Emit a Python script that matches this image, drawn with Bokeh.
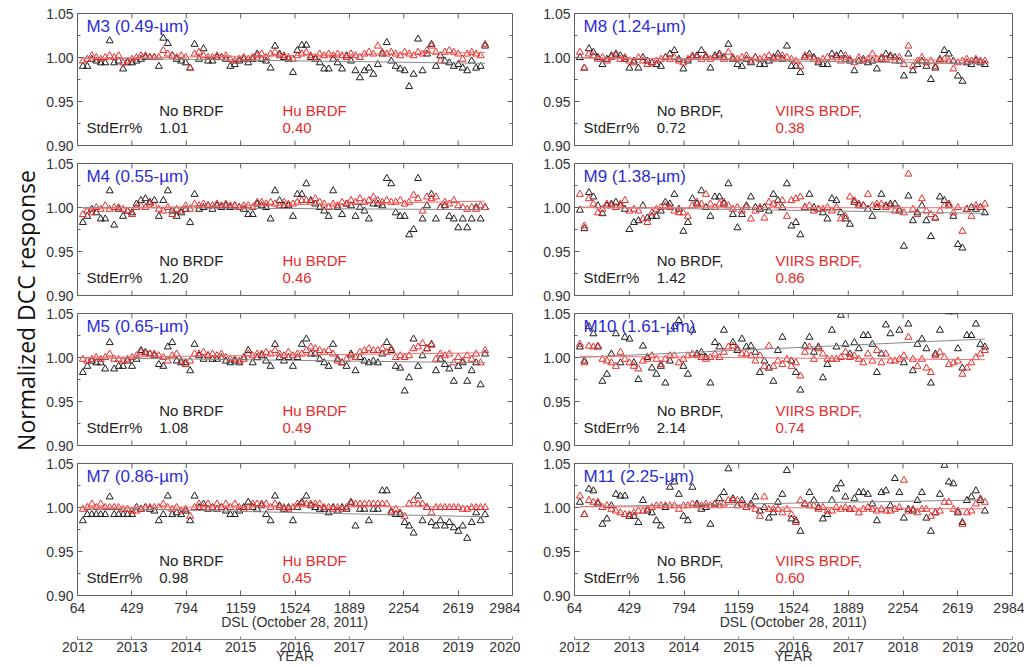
import numpy as np
from bokeh.plotting import figure
from bokeh.models import Range1d, LinearAxis, FixedTicker, NumeralTickFormatter, Label
from bokeh.layouts import row, column
from bokeh.embed import file_html
from bokeh.resources import INLINE

# ---------------- data ----------------
dsl_days = [100, 130, 160, 190, 220, 250, 280, 310, 340, 370,
            400, 430, 460, 490, 520, 550, 580, 610, 640, 670,
            700, 730, 760, 790, 820, 850, 880, 910, 940, 970,
            1000, 1030, 1060, 1090, 1120, 1150, 1180, 1210, 1240, 1270,
            1300, 1330, 1360, 1390, 1420, 1450, 1480, 1510, 1540, 1570,
            1600, 1630, 1660, 1690, 1720, 1750, 1780, 1810, 1840, 1870,
            1900, 1930, 1960, 1990, 2020, 2050, 2080, 2110, 2140, 2170,
            2200, 2230, 2260, 2290, 2320, 2350, 2380, 2410, 2440, 2470,
            2500, 2530, 2560, 2590, 2620, 2650, 2680, 2710, 2740, 2770,
            2800]

dsl_ticks = [64, 429, 794, 1159, 1524, 1889, 2254, 2619, 2984]
year_ticks = [2012, 2013, 2014, 2015, 2016, 2017, 2018, 2019, 2020]
y_ticks = [0.90, 0.95, 1.00, 1.05]
y_minor = [0.925, 0.975, 1.025]

m3_nobrdf = [0.990, 0.990, 0.998, 0.996, 0.994, 0.994, 1.019, 0.994, 0.996, 0.987,
             0.994, 0.994, 0.996, 0.998, 1.000, 1.000, 1.000, 0.990, 1.022, 1.016,
             1.002, 0.998, 0.996, 0.994, 0.988, 1.015, 0.998, 1.010, 0.996, 0.996,
             1.000, 1.000, 0.998, 0.990, 0.992, 0.996, 0.998, 0.994, 0.998, 1.004,
             0.998, 0.996, 0.988, 1.013, 1.004, 1.000, 0.998, 0.983, 1.008, 1.014,
             1.014, 1.000, 0.998, 0.994, 0.987, 0.987, 0.998, 0.994, 0.987, 1.002,
             0.996, 0.985, 0.977, 0.985, 0.988, 0.981, 0.992, 1.004, 1.017, 0.996,
             0.990, 0.987, 0.985, 0.967, 0.981, 1.021, 0.985, 1.004, 1.015, 0.990,
             1.002, 0.996, 0.994, 0.990, 0.992, 0.988, 0.985, 0.996, 0.988, 0.990,
             1.013]
m3_brdf = [0.996, 0.998, 1.002, 1.000, 0.998, 1.000, 1.002, 1.000, 1.002, 0.994,
           0.996, 0.998, 1.000, 1.002, 1.002, 1.000, 1.000, 1.000, 1.008, 1.004,
           1.002, 1.000, 1.002, 1.000, 0.988, 1.004, 1.006, 1.002, 1.000, 1.000,
           1.002, 1.000, 1.002, 0.998, 0.996, 0.998, 1.000, 0.998, 1.000, 1.002,
           1.004, 1.000, 1.004, 1.006, 1.002, 1.002, 1.000, 0.998, 1.002, 1.004,
           1.006, 1.002, 1.000, 1.004, 1.002, 1.004, 1.002, 1.004, 1.002, 1.000,
           1.004, 1.002, 1.000, 1.004, 1.006, 1.004, 1.013, 1.006, 1.004, 1.006,
           1.004, 1.002, 1.006, 1.004, 1.002, 1.006, 1.004, 1.008, 1.013, 1.006,
           0.996, 1.006, 1.008, 1.006, 1.004, 0.998, 1.004, 1.006, 1.004, 1.002,
           1.015]

m4_nobrdf = [0.983, 0.990, 0.998, 0.994, 0.987, 0.987, 1.019, 0.980, 0.998, 0.990,
             0.996, 0.994, 1.004, 1.008, 1.010, 1.006, 1.008, 0.990, 1.008, 1.019,
             0.996, 0.990, 0.994, 0.998, 0.983, 1.015, 0.998, 1.000, 1.002, 0.998,
             1.002, 1.000, 1.002, 1.000, 1.002, 1.000, 0.998, 0.992, 0.992, 1.004,
             1.002, 1.000, 0.987, 1.019, 1.008, 1.002, 1.002, 0.990, 1.015, 1.015,
             1.027, 1.008, 1.004, 1.000, 0.996, 0.990, 1.019, 1.000, 0.992, 1.004,
             1.002, 0.990, 1.000, 0.996, 0.987, 1.004, 1.004, 1.002, 1.033, 1.027,
             0.994, 0.990, 0.990, 0.969, 0.975, 1.033, 0.987, 1.002, 1.015, 0.987,
             1.000, 1.002, 0.990, 0.987, 0.977, 0.987, 0.977, 0.987, 1.000, 0.987,
             1.000]
m4_brdf = [0.992, 0.996, 0.994, 1.000, 0.998, 1.002, 0.998, 1.000, 1.000, 0.998,
           0.996, 0.992, 1.000, 1.002, 1.000, 1.004, 1.002, 0.998, 0.996, 1.000,
           0.992, 0.998, 0.996, 1.002, 0.998, 1.004, 1.002, 1.004, 1.002, 1.002,
           1.004, 1.002, 1.004, 1.002, 1.002, 1.000, 1.002, 1.002, 1.000, 1.006,
           1.006, 1.004, 1.006, 1.004, 1.002, 1.006, 1.004, 1.004, 1.006, 1.008,
           1.008, 1.006, 1.010, 1.006, 1.004, 1.000, 1.004, 1.002, 1.006, 1.004,
           1.008, 1.006, 1.010, 1.006, 1.008, 1.012, 1.008, 1.006, 1.008, 1.006,
           1.006, 1.008, 1.004, 1.006, 1.014, 1.010, 0.996, 1.012, 1.010, 1.012,
           1.000, 1.006, 1.004, 1.008, 1.002, 1.000, 0.998, 1.000, 0.998, 1.002,
           1.000]

m5_nobrdf = [0.983, 0.990, 0.996, 0.994, 0.994, 0.987, 1.017, 0.987, 0.990, 0.990,
             0.996, 0.990, 0.998, 1.008, 1.006, 1.004, 1.002, 0.992, 0.990, 1.012,
             1.017, 0.996, 0.994, 0.994, 0.985, 1.015, 1.002, 0.998, 1.002, 0.998,
             0.998, 1.000, 0.996, 0.994, 0.996, 0.994, 1.000, 1.008, 0.994, 1.000,
             1.002, 0.996, 0.990, 1.015, 1.000, 0.996, 1.000, 0.990, 1.000, 1.015,
             1.021, 1.004, 1.004, 0.998, 0.994, 0.990, 1.015, 0.998, 0.994, 0.990,
             1.004, 0.985, 1.000, 0.996, 0.994, 0.996, 0.994, 1.004, 1.017, 1.008,
             0.990, 0.988, 0.962, 0.977, 1.021, 0.990, 1.002, 1.010, 1.015, 0.985,
             0.998, 0.992, 0.987, 0.973, 0.990, 0.994, 0.973, 0.985, 0.994, 0.969,
             1.004]
m5_brdf = [0.998, 0.996, 0.998, 1.000, 0.998, 1.000, 1.004, 0.998, 0.998, 0.996,
           0.998, 1.000, 1.002, 1.006, 1.004, 1.004, 1.004, 1.002, 1.000, 0.996,
           1.002, 1.004, 0.996, 0.992, 0.996, 1.004, 1.004, 1.006, 1.002, 1.004,
           1.002, 1.004, 1.000, 0.998, 0.998, 0.996, 0.998, 1.004, 1.002, 1.004,
           1.004, 1.006, 1.004, 1.008, 1.004, 1.002, 1.006, 1.002, 1.004, 1.004,
           1.008, 1.012, 1.010, 1.008, 1.006, 1.008, 1.004, 0.996, 0.994, 0.998,
           1.002, 1.000, 1.006, 1.008, 1.010, 1.008, 1.008, 1.010, 1.006, 1.010,
           1.000, 1.002, 1.000, 1.002, 1.010, 1.012, 1.016, 1.010, 1.014, 0.998,
           1.004, 1.002, 1.004, 0.994, 1.000, 0.996, 1.002, 0.998, 1.004, 0.994,
           1.008]

m7_nobrdf = [0.985, 0.992, 0.992, 0.992, 0.992, 0.992, 1.012, 0.992, 0.992, 0.992,
             0.992, 0.992, 1.000, 0.998, 1.000, 0.998, 0.996, 0.985, 0.992, 1.013,
             0.992, 0.994, 0.992, 0.996, 0.985, 1.013, 1.000, 1.004, 0.998, 1.000,
             0.998, 1.000, 0.996, 0.992, 0.992, 0.996, 1.000, 1.006, 1.000, 0.998,
             1.002, 0.992, 0.985, 1.013, 1.002, 0.998, 1.000, 0.985, 1.000, 1.006,
             1.013, 1.002, 1.000, 0.998, 0.998, 0.994, 1.000, 0.996, 1.000, 0.998,
             1.006, 0.979, 0.998, 0.998, 0.985, 0.998, 0.998, 1.019, 1.019, 0.994,
             0.992, 0.992, 0.983, 0.979, 0.971, 1.013, 0.985, 1.000, 0.983, 0.979,
             0.985, 0.979, 0.983, 0.977, 0.973, 0.979, 0.965, 0.983, 0.994, 0.985,
             0.992]
m7_brdf = [0.998, 1.000, 1.004, 1.000, 1.004, 1.000, 1.000, 1.000, 1.000, 0.998,
           0.998, 0.996, 0.996, 0.998, 1.000, 1.000, 1.000, 1.000, 1.004, 1.000,
           0.998, 1.000, 0.996, 0.998, 0.990, 1.000, 1.004, 1.000, 1.004, 1.000,
           1.004, 1.000, 1.004, 1.000, 1.004, 1.000, 0.998, 1.000, 1.004, 1.004,
           1.004, 1.004, 1.000, 1.004, 1.000, 1.000, 0.998, 1.000, 1.004, 1.004,
           1.004, 1.004, 1.004, 1.004, 1.000, 1.000, 0.998, 1.000, 0.998, 1.000,
           1.004, 1.004, 1.004, 1.004, 1.004, 1.004, 1.004, 1.004, 1.004, 0.996,
           0.998, 0.994, 0.990, 1.004, 1.008, 1.004, 1.004, 1.000, 0.994, 1.000,
           1.000, 1.000, 1.000, 1.000, 1.000, 0.998, 0.998, 1.000, 1.000, 1.000,
           1.000]

m8_nobrdf = [1.000, 0.988, 1.010, 1.006, 1.000, 0.992, 0.998, 1.002, 1.004, 1.002,
             0.998, 0.988, 0.996, 0.988, 1.000, 0.996, 0.994, 0.992, 0.990, 1.000,
             1.004, 1.008, 0.998, 0.987, 0.996, 1.000, 1.002, 1.008, 1.000, 0.988,
             1.002, 1.004, 1.000, 1.015, 0.998, 0.992, 0.990, 0.998, 0.994, 1.000,
             0.992, 0.992, 0.996, 1.000, 1.004, 0.998, 1.013, 0.990, 0.990, 0.983,
             1.000, 1.004, 1.000, 0.994, 0.992, 0.992, 1.004, 1.002, 1.004, 0.998,
             0.996, 0.985, 0.996, 0.998, 0.994, 0.996, 0.987, 0.998, 1.004, 1.002,
             1.000, 0.996, 0.979, 1.004, 0.985, 0.992, 0.996, 0.990, 0.975, 0.988,
             0.998, 1.008, 1.004, 0.996, 0.979, 0.973, 0.994, 0.992, 0.996, 0.994,
             0.992]
m8_brdf = [1.006, 0.988, 1.004, 1.002, 0.998, 1.000, 0.996, 1.000, 1.002, 0.998,
           1.000, 0.996, 0.994, 1.000, 0.996, 0.992, 0.994, 0.996, 0.998, 1.000,
           0.998, 1.000, 0.996, 0.994, 0.998, 1.002, 1.000, 0.998, 1.002, 0.998,
           1.000, 1.002, 0.998, 1.006, 1.000, 0.998, 1.000, 1.002, 0.996, 1.000,
           0.998, 1.000, 1.002, 0.998, 1.000, 1.002, 1.000, 0.998, 0.996, 0.990,
           1.002, 1.000, 0.998, 0.996, 0.998, 1.000, 0.998, 1.000, 0.996, 1.002,
           0.998, 0.994, 1.000, 0.996, 0.998, 1.004, 0.998, 1.000, 0.998, 1.000,
           0.996, 1.000, 0.992, 1.013, 0.990, 0.996, 1.000, 0.994, 0.996, 0.990,
           0.996, 0.998, 0.996, 0.987, 0.994, 0.996, 0.998, 0.996, 0.998, 0.996,
           0.996]

m9_nobrdf = [0.997, 0.976, 1.017, 1.012, 1.002, 0.993, 1.002, 1.004, 1.006, 1.002,
             0.998, 0.975, 0.983, 0.985, 1.002, 0.988, 0.990, 0.990, 0.996, 1.006,
             1.004, 1.015, 0.998, 0.973, 0.983, 1.010, 1.004, 1.019, 1.000, 0.990,
             1.012, 1.012, 1.004, 1.027, 0.992, 0.977, 0.992, 1.002, 1.012, 1.000,
             0.998, 1.000, 0.996, 1.015, 1.008, 1.000, 1.027, 0.979, 0.983, 0.969,
             1.000, 1.015, 1.000, 0.998, 0.994, 0.987, 1.010, 1.008, 0.994, 0.987,
             0.981, 1.006, 1.002, 1.002, 0.998, 0.990, 1.000, 1.015, 1.002, 1.004,
             1.004, 0.996, 0.956, 1.013, 0.985, 0.994, 1.002, 0.985, 0.967, 0.988,
             1.012, 1.008, 1.002, 0.990, 0.958, 0.954, 0.998, 1.000, 0.998, 1.000,
             0.994]
m9_brdf = [1.015, 0.979, 1.010, 1.004, 0.994, 0.998, 1.004, 1.002, 1.000, 1.004,
           1.008, 0.996, 0.998, 0.996, 0.987, 0.983, 0.994, 0.998, 1.000, 1.002,
           1.000, 0.996, 0.994, 0.994, 0.990, 1.002, 1.006, 1.004, 1.015, 1.004,
           1.000, 1.004, 1.006, 1.002, 0.998, 1.000, 0.996, 1.000, 0.987, 0.996,
           1.000, 0.988, 1.006, 1.004, 1.002, 1.008, 0.990, 1.008, 1.010, 1.012,
           1.000, 1.002, 0.996, 0.998, 0.998, 1.000, 0.996, 1.000, 0.987, 0.990,
           1.012, 1.008, 1.004, 1.002, 1.015, 1.002, 1.004, 1.004, 1.000, 1.002,
           0.996, 0.998, 0.994, 1.038, 0.998, 0.992, 1.010, 0.996, 0.992, 0.988,
           0.996, 1.002, 1.004, 0.994, 1.000, 0.973, 0.998, 0.990, 1.002, 1.000,
           1.004]

m10_nobrdf = [1.012, 0.996, 1.035, 1.027, 1.012, 0.973, 0.981, 1.004, 1.027, 0.994,
              1.023, 1.021, 0.994, 0.975, 1.013, 1.000, 0.988, 0.981, 0.990, 0.971,
              0.996, 1.035, 1.042, 0.990, 0.981, 1.031, 1.004, 1.006, 1.000, 0.971,
              1.017, 1.012, 1.031, 1.061, 1.017, 1.008, 1.021, 1.012, 1.013, 1.006,
              0.983, 0.996, 0.988, 0.973, 1.008, 1.023, 1.057, 0.996, 0.983, 0.963,
              1.013, 1.023, 1.006, 1.012, 0.977, 0.992, 1.031, 1.012, 1.048, 1.015,
              1.004, 1.017, 1.010, 1.025, 1.025, 1.015, 0.983, 1.004, 1.037, 1.027,
              1.057, 1.031, 0.994, 1.038, 0.985, 1.015, 1.021, 1.010, 0.971, 1.004,
              1.031, 1.068, 1.052, 1.052, 1.010, 0.988, 1.025, 1.025, 1.038, 1.015,
              1.012]
m10_brdf = [1.015, 0.994, 1.013, 1.012, 1.013, 0.998, 0.996, 0.994, 0.990, 1.006,
            0.998, 0.994, 0.990, 0.987, 0.996, 0.998, 1.002, 0.998, 0.992, 0.998,
            1.002, 1.002, 0.994, 0.998, 1.002, 1.004, 1.002, 1.000, 0.998, 1.000,
            1.004, 1.000, 1.006, 1.012, 1.013, 1.010, 1.004, 1.004, 1.002, 0.996,
            1.002, 0.990, 1.013, 0.990, 0.996, 0.992, 0.998, 0.990, 0.994, 0.979,
            1.006, 1.012, 0.998, 1.010, 1.004, 0.998, 0.998, 0.998, 1.000, 1.006,
            1.000, 1.002, 0.998, 0.994, 1.004, 0.996, 1.008, 0.994, 1.004, 0.996,
            0.996, 0.998, 1.002, 1.023, 0.998, 0.990, 0.998, 0.988, 0.983, 1.002,
            1.006, 1.000, 0.992, 0.994, 0.996, 0.981, 0.988, 0.994, 1.000, 1.004,
            1.008]

m11_nobrdf = [1.006, 0.992, 1.021, 1.019, 1.004, 0.981, 0.987, 1.002, 1.015, 1.013,
              1.013, 0.990, 0.990, 0.983, 1.008, 0.996, 0.994, 0.985, 0.979, 1.000,
              1.023, 1.029, 1.015, 0.990, 0.985, 1.023, 1.004, 0.998, 1.000, 0.981,
              1.004, 1.010, 1.017, 1.044, 1.010, 1.002, 1.008, 1.000, 1.004, 1.012,
              0.996, 1.000, 0.988, 0.994, 1.006, 1.015, 1.042, 0.987, 0.985, 0.973,
              1.004, 1.017, 1.008, 1.000, 0.987, 0.992, 1.008, 1.021, 1.027, 1.012,
              0.998, 1.010, 1.017, 1.017, 1.015, 1.004, 0.985, 1.017, 1.019, 1.002,
              1.033, 1.017, 0.988, 0.998, 0.996, 1.008, 1.017, 0.988, 0.973, 0.994,
              1.015, 1.048, 1.029, 1.027, 0.994, 0.983, 1.008, 1.012, 1.019, 1.008,
              0.996]
m11_brdf = [1.013, 0.992, 1.008, 1.006, 1.006, 1.000, 1.002, 0.998, 0.996, 0.994,
            0.992, 0.992, 0.994, 0.996, 0.996, 0.998, 1.000, 1.002, 1.002, 1.002,
            1.002, 1.002, 0.998, 1.002, 1.002, 1.004, 1.002, 1.002, 1.004, 1.002,
            1.004, 1.002, 1.004, 1.008, 1.008, 1.008, 1.004, 1.000, 1.002, 0.998,
            0.990, 1.012, 0.998, 0.998, 0.998, 0.994, 0.998, 0.992, 0.983, 1.008,
            1.004, 1.002, 1.002, 0.998, 1.000, 0.996, 0.996, 1.000, 0.998, 1.000,
            0.998, 0.998, 0.994, 0.998, 1.000, 0.998, 0.996, 0.998, 0.996, 0.996,
            0.998, 1.000, 1.031, 0.996, 0.998, 0.994, 0.998, 0.998, 0.990, 0.994,
            0.996, 1.006, 1.006, 0.998, 0.996, 0.981, 0.994, 0.996, 1.004, 1.010,
            1.006]

band_names = ["M3 (0.49-\u00b5m)", "M4 (0.55-\u00b5m)", "M5 (0.65-\u00b5m)", "M7 (0.86-\u00b5m)",
              "M8 (1.24-\u00b5m)", "M9 (1.38-\u00b5m)", "M10 (1.61-\u00b5m)", "M11 (2.25-\u00b5m)"]
stderr_nobrdf = ["1.01", "1.20", "1.08", "0.98", "0.72", "1.42", "2.14", "1.56"]
stderr_brdf = ["0.40", "0.46", "0.49", "0.45", "0.38", "0.86", "0.74", "0.60"]
nobrdf_series = [m3_nobrdf, m4_nobrdf, m5_nobrdf, m7_nobrdf, m8_nobrdf, m9_nobrdf, m10_nobrdf, m11_nobrdf]
brdf_series = [m3_brdf, m4_brdf, m5_brdf, m7_brdf, m8_brdf, m9_brdf, m10_brdf, m11_brdf]

# ---------------- style ----------------
FONT = "Liberation Sans"
BLACK = "#1e1e1e"
RED = "#ea2b2b"
BLUE = "#2c2cd6"
FRAME = "#606060"
TXT = "#333333"
X0, X1, Y0, Y1 = 64, 2984, 0.90, 1.05


def make_panel(k, col, rowi):
    last = rowi == 3
    bl = 37 if col == 0 else 54
    br = 8 if col == 0 else 12
    fw = 435 if col == 0 else 438
    bt = 13 if rowi == 0 else 9
    bb = 71 if last else 9
    h = bt + 132 + bb
    p = figure(width=bl + fw + br, height=h,
               x_range=Range1d(X0, X1), y_range=Range1d(Y0, Y1),
               output_backend="svg", toolbar_location=None, tools="",
               min_border_left=bl, min_border_right=br, min_border_top=bt,
               min_border_bottom=bb)
    p.grid.visible = False
    p.outline_line_color = FRAME
    p.outline_line_width = 1

    yax = p.yaxis[0]
    yax.ticker = FixedTicker(ticks=y_ticks, minor_ticks=y_minor)
    yax.formatter = NumeralTickFormatter(format="0.00")
    yax.major_tick_in = 5
    yax.major_tick_out = 0
    yax.minor_tick_in = 3
    yax.minor_tick_out = 0
    yax.axis_line_color = FRAME
    yax.major_tick_line_color = FRAME
    yax.minor_tick_line_color = FRAME
    yax.major_label_text_font = FONT
    yax.major_label_text_font_size = "14px"
    yax.major_label_text_color = TXT
    yax.major_label_standoff = 4

    # inward tick marks on the top and right edges (and bottom of inner rows)
    ty = (Y1 - Y0) * 5 / 132.0
    tx = (X1 - X0) * 5 / fw
    p.segment(x0=dsl_ticks, y0=[Y1] * len(dsl_ticks), x1=dsl_ticks,
              y1=[Y1 - ty] * len(dsl_ticks), line_color=FRAME, line_width=1)
    p.segment(x0=[X1] * len(y_ticks), y0=y_ticks, x1=[X1 - tx] * len(y_ticks),
              y1=y_ticks, line_color=FRAME, line_width=1)
    p.segment(x0=[X1] * len(y_minor), y0=y_minor, x1=[X1 - tx * 0.6] * len(y_minor),
              y1=y_minor, line_color=FRAME, line_width=1)

    xax = p.xaxis[0]
    if last:
        xax.ticker = FixedTicker(ticks=dsl_ticks, minor_ticks=[])
        xax.major_tick_in = 5
        xax.major_tick_out = 0
        xax.axis_line_color = FRAME
        xax.major_tick_line_color = FRAME
        xax.major_label_text_font = FONT
        xax.major_label_text_font_size = "14px"
        xax.major_label_text_color = TXT
        xax.major_label_standoff = 7
        xax.axis_label = "DSL (October 28, 2011)"
        xax.axis_label_text_font = FONT
        xax.axis_label_text_font_size = "14px"
        xax.axis_label_text_font_style = "normal"
        xax.axis_label_text_color = TXT
        xax.axis_label_standoff = -2
        p.extra_x_ranges = {"year": Range1d(2012, 2020)}
        # blank band between the DSL title and the YEAR axis line
        gap = LinearAxis(x_range_name="year", ticker=FixedTicker(ticks=[2016], minor_ticks=[]),
                         axis_line_color=None, major_tick_line_color="white",
                         minor_tick_line_color=None, major_tick_out=7, major_tick_in=0,
                         minor_tick_out=0, minor_tick_in=0, major_label_standoff=0,
                         major_label_text_alpha=0)
        p.add_layout(gap, "below")
        yr = LinearAxis(x_range_name="year",
                        ticker=FixedTicker(ticks=year_ticks, minor_ticks=[]),
                        axis_label="YEAR")
        yr.major_tick_in = 3
        yr.major_tick_out = 0
        yr.axis_line_color = "#888888"
        yr.major_tick_line_color = "#888888"
        yr.major_label_text_font = FONT
        yr.major_label_text_font_size = "14px"
        yr.major_label_text_color = TXT
        yr.major_label_standoff = 2
        yr.axis_label_text_font = FONT
        yr.axis_label_text_font_size = "14px"
        yr.axis_label_text_font_style = "normal"
        yr.axis_label_text_color = TXT
        yr.axis_label_standoff = -7
        p.add_layout(yr, "below")
    else:
        xax.visible = False
        p.segment(x0=dsl_ticks, y0=[Y0] * len(dsl_ticks), x1=dsl_ticks,
                  y1=[Y0 + ty] * len(dsl_ticks), line_color=FRAME, line_width=1)

    black = nobrdf_series[k]
    red = brdf_series[k]

    p.scatter(dsl_days, black, marker="triangle", size=7, fill_color=None,
              line_color=BLACK, line_width=1)
    p.scatter(dsl_days, red, marker="triangle", size=7, fill_color=None,
              line_color=RED, line_width=1)

    # linear trend lines fitted to each series
    for vals, c in ((black, "#8a8a8a"), (red, "#f07070")):
        s, b = np.polyfit(dsl_days, vals, 1)
        xs = [dsl_days[0], dsl_days[-1]]
        p.line(xs, [b + s * xs[0], b + s * xs[1]], line_color=c, line_width=1)

    lab_b = "No BRDF" if col == 0 else "No BRDF,"
    lab_r = "Hu BRDF" if col == 0 else "VIIRS BRDF,"
    xr = 1440 if col == 0 else 1404
    p.add_layout(Label(x=124, y=1.0355, text=band_names[k], text_color=BLUE,
                       text_font=FONT, text_font_size="17px", text_baseline="middle"))
    p.add_layout(Label(x=612, y=0.9395, text=lab_b, text_color=BLACK,
                       text_font=FONT, text_font_size="15px", text_baseline="middle"))
    p.add_layout(Label(x=124, y=0.9200, text="StdErr%", text_color=BLACK,
                       text_font=FONT, text_font_size="15px", text_baseline="middle"))
    p.add_layout(Label(x=612, y=0.9200, text=stderr_nobrdf[k], text_color=BLACK,
                       text_font=FONT, text_font_size="15px", text_baseline="middle"))
    p.add_layout(Label(x=xr, y=0.9395, text=lab_r, text_color=RED,
                       text_font=FONT, text_font_size="15px", text_baseline="middle"))
    p.add_layout(Label(x=xr, y=0.9200, text=stderr_brdf[k], text_color=RED,
                       text_font=FONT, text_font_size="15px", text_baseline="middle"))
    return p


left = [make_panel(k, 0, k) for k in range(4)]
right = [make_panel(k + 4, 1, k) for k in range(4)]

lab = figure(width=40, height=666, x_range=Range1d(0, 40), y_range=Range1d(0, 666),
             output_backend="svg", toolbar_location=None, tools="",
             min_border=0)
lab.axis.visible = False
lab.grid.visible = False
lab.outline_line_color = None
lab.add_layout(Label(x=25, y=356, text="Normalized DCC response", angle=np.pi / 2,
                     text_align="center", text_baseline="middle",
                     text_font="Open Sans", text_font_size="23px", text_color="#111111"))

layout = row(lab, column(*left), column(*right))

with open("out.html", "w") as f:
    f.write(file_html(layout, INLINE))
